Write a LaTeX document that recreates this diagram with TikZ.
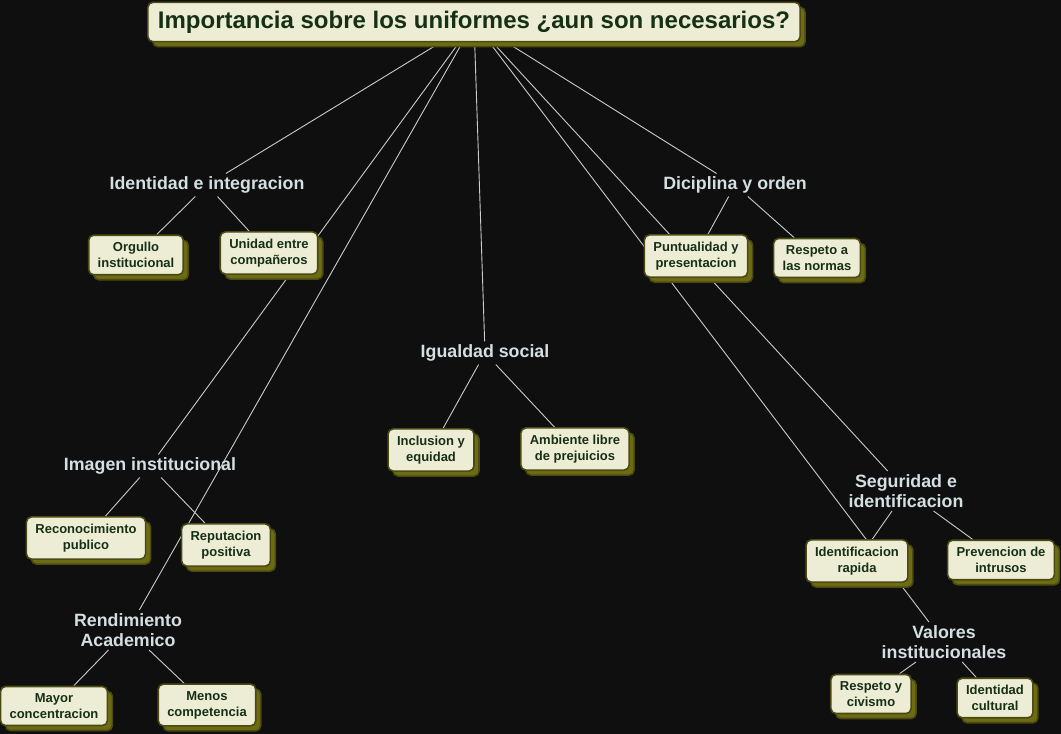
\documentclass[tikz,border=0pt]{standalone}
\usepackage{fontspec}
\setmainfont{Liberation Sans}
\usepackage{xcolor}
\usetikzlibrary{shadows,backgrounds,positioning}

\definecolor{fondo}{HTML}{0E0F0E}
\definecolor{crema}{HTML}{EDEDD6}
\definecolor{borde}{HTML}{4A4A12}
\definecolor{sombra}{HTML}{6E6C12}
\definecolor{verdeosc}{HTML}{163016}
\definecolor{enlacetx}{HTML}{D4DFE2}
\definecolor{linea}{HTML}{C8CCCA}

\begin{document}
\begin{tikzpicture}[x=1pt,y=-1pt,
      concepto/.style={draw=borde,line width=1.6pt,fill=crema,rounded corners=5pt,
                       align=center,text=verdeosc,inner xsep=9pt,inner ysep=7pt,
                       font=\fontsize{13}{16}\selectfont\bfseries,
                       drop shadow={shadow xshift=5pt,shadow yshift=-5pt,
                                    fill=sombra,draw=borde,opacity=1}},
      titulo/.style={concepto,inner xsep=10pt,inner ysep=8.5pt,
                     font=\fontsize{24}{28}\selectfont\bfseries},
      enlace/.style={align=center,text=enlacetx,inner sep=3pt,
                     font=\fontsize{17.8}{20.5}\selectfont\bfseries},
      conector/.style={draw=linea,line width=0.9pt},
  ]
  \useasboundingbox (0,0) rectangle (1061,734);

  %--- raiz ---
  \node[titulo] (tit) at (474,22) {Importancia sobre los uniformes ¿aun son necesarios?};

  %--- frases de enlace ---
  \node[enlace] (ident) at (207,185) {Identidad e integracion};
  \node[enlace] (disc) at (735,185) {Diciplina y orden};
  \node[enlace] (igual) at (485,353) {Igualdad social};
  \node[enlace] (imagen) at (150,466) {Imagen institucional};
  \node[enlace] (segur) at (906,491) {Seguridad e\\identificacion};
  \node[enlace] (rend) at (128,630) {Rendimiento\\Academico};
  \node[enlace] (valores) at (944,642) {Valores\\institucionales};

  %--- conceptos ---
  \node[concepto] (orgullo) at (136,255) {Orgullo\\institucional};
  \node[concepto] (unidad) at (269,253) {Unidad entre\\compañeros};
  \node[concepto] (recon) at (86,538) {Reconocimiento\\publico};
  \node[concepto] (reput) at (226,545) {Reputacion\\positiva};
  \node[concepto] (mayor) at (54,706) {Mayor\\concentracion};
  \node[concepto] (menos) at (207,705) {Menos\\competencia};
  \node[concepto] (inclu) at (431,450) {Inclusion y\\equidad};
  \node[concepto] (ambi) at (575,449) {Ambiente libre\\de prejuicios};
  \node[concepto] (puntu) at (696,256) {Puntualidad y\\presentacion};
  \node[concepto] (normas) at (817,258) {Respeto a\\las normas};
  \node[concepto] (idrap) at (857,561) {Identificacion\\rapida};
  \node[concepto] (intrus) at (1001,560) {Prevencion de\\intrusos};
  \node[concepto] (civis) at (871,694) {Respeto y\\civismo};
  \node[concepto] (cultu) at (995,698) {Identidad\\cultural};

  %--- lineas (detras de las cajas) ---
  \begin{scope}[on background layer]
    \fill[fondo] (0,0) rectangle (1061,734);
    \foreach \d in {ident,imagen,rend,igual,valores,segur,disc}
      \draw[conector] (tit) -- (\d);
    \draw[conector] (ident) -- (orgullo);
    \draw[conector] (ident) -- (unidad);
    \draw[conector] (imagen) -- (recon);
    \draw[conector] (imagen) -- (reput);
    \draw[conector] (rend) -- (mayor);
    \draw[conector] (rend) -- (menos);
    \draw[conector] (igual) -- (inclu);
    \draw[conector] (igual) -- (ambi);
    \draw[conector] (disc) -- (puntu);
    \draw[conector] (disc) -- (normas);
    \draw[conector] (segur) -- (idrap);
    \draw[conector] (segur) -- (intrus);
    \draw[conector] (valores) -- (civis);
    \draw[conector] (valores) -- (cultu);
  \end{scope}
\end{tikzpicture}
\end{document}
